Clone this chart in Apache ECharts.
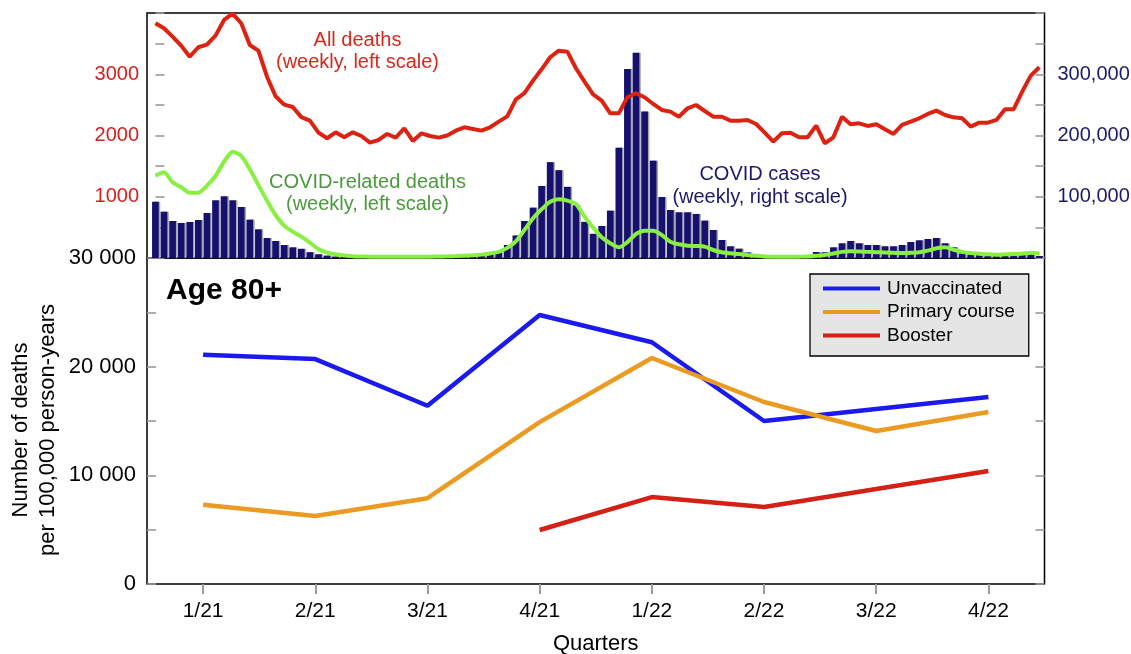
<!DOCTYPE html>
<html>
<head>
<meta charset="utf-8">
<script src="https://cdn.jsdelivr.net/npm/echarts@6/dist/echarts.min.js"></script>
<style>html,body{margin:0;padding:0;background:#fff}#c{width:1131px;height:654px}</style>
</head>
<body>
<div id="c"></div>
<script>
// ---- Top panel: weekly data (week 0 = first week of 2021) ----
const weeklyCases = [91900,75600,60400,57200,58800,62000,73500,94200,100700,94200,
83300,62600,46800,32700,27800,21200,17400,15000,9500,6100,
3900,2400,1800,1500,1300,1200,1100,1100,1000,1000,
1100,1200,1300,1400,1600,1900,2500,3800,4900,7100,
9800,21200,36800,60400,82200,117600,156500,143400,116200,86000,
59000,39500,52300,77300,180100,308600,335300,239000,158900,99600,
78400,74600,74600,71900,61000,45700,29400,19100,15200,9000,
5000,3000,2000,1500,1500,2000,3500,9800,9300,17400,
24000,27800,24000,21200,21200,19100,19100,21200,26100,28900,
31000,32700,24000,17400,7600,6000,5500,4900,3800,3800,
3800,4900,6000,3300];
const weeklyAllDeaths = [3833,3751,3614,3467,3287,3441,3483,3630,3887,3990,
3833,3478,3385,2960,2640,2505,2466,2300,2242,2046,
1955,2052,1971,2052,1992,1883,1927,2025,1965,2118,
1911,2036,1992,1965,2000,2079,2134,2107,2079,2134,
2226,2313,2590,2690,2896,3081,3277,3385,3369,3098,
2879,2672,2569,2363,2363,2624,2690,2624,2515,2417,
2390,2307,2444,2498,2400,2307,2307,2242,2242,2254,
2188,2046,1899,2036,2046,1971,1971,2161,1873,1971,
2307,2183,2199,2156,2183,2102,2025,2172,2226,2281,
2352,2406,2335,2297,2281,2145,2210,2210,2254,2428,
2428,2716,2977,3114];
const weeklyCovidDeaths = [1344,1399,1236,1154,1067,1067,1181,1339,1573,1736,
1666,1448,1192,936,702,528,430,348,250,142,
87,60,40,30,25,22,20,20,20,20,
20,20,22,25,28,32,38,45,55,75,
100,165,272,457,648,795,919,959,936,882,
675,500,338,240,174,260,392,446,446,376,
266,224,201,196,185,131,93,77,65,50,
35,25,20,20,20,22,25,35,50,75,
100,110,108,100,95,90,85,80,85,95,
120,160,175,135,100,80,70,60,55,60,
65,70,85,70];

// ---- Bottom panel: quarterly death rates ----
const quarters = ['1/21','2/21','3/21','4/21','1/22','2/22','3/22','4/22'];
const unvaccinated = [21100,20700,16400,24750,22250,15000,16100,17200];
const primaryCourse = [7300,6250,7900,14900,20800,16750,14080,15830];
const booster = [null,null,null,4970,8000,7090,8740,10400];

const leftTicksTop = [1000,2000,3000];
const rightTicksTop = [100000,200000,300000];

const FONT = '"Liberation Sans", Arial, sans-serif';
const toPairs = arr => arr.map((v,i)=>[i,v]);

const chart = echarts.init(document.getElementById('c'), null, {renderer:'canvas'});
const tickStyle = {show:true, inside:true, length:9, lineStyle:{color:'#999', width:1.6}};

chart.setOption({
  animation:false,
  backgroundColor:'#fff',
  textStyle:{fontFamily:FONT},
  grid:[
    {left:147, right:86.5, top:13, height:245, show:true, borderColor:'#000', borderWidth:1.5, backgroundColor:'transparent', containLabel:false, outerBoundsMode:'none'},
    {left:147, right:86.5, top:258, height:326, show:true, borderColor:'#000', borderWidth:1.5, backgroundColor:'transparent', containLabel:false, outerBoundsMode:'none'}
  ],
  xAxis:[
    {gridIndex:0, type:'value', min:-0.98, max:103.6, show:false},
    {gridIndex:1, type:'category', data:quarters, position:'bottom', boundaryGap:true,
     axisLine:{show:false},
     axisTick:{show:true, alignWithLabel:true, inside:false, length:10, lineStyle:{color:'#999', width:1.6}},
     axisLabel:{show:true, margin:17, fontSize:21, color:'#000', fontFamily:FONT},
     splitLine:{show:false},
     name:'Quarters', nameLocation:'middle', nameGap:49, nameMoveOverlap:false,
     nameTextStyle:{fontSize:22, color:'#000', fontFamily:FONT}},
    {gridIndex:1, type:'category', data:quarters, position:'top', boundaryGap:true,
     axisLine:{show:false},
     axisTick:{show:true, alignWithLabel:true, inside:true, length:10, lineStyle:{color:'#999', width:1.6}},
     axisLabel:{show:false}, splitLine:{show:false}}
  ],
  yAxis:[
    {gridIndex:0, type:'value', position:'left', min:0, max:4000, interval:500,
     axisLine:{show:false}, axisTick:tickStyle, splitLine:{show:false},
     axisLabel:{margin:8, fontSize:20, color:'#d42020', fontFamily:FONT,
       formatter:v=>leftTicksTop.includes(v)?String(v):''}},
    {gridIndex:0, type:'value', position:'right', min:0, max:400000, interval:50000,
     axisLine:{show:false}, axisTick:tickStyle, splitLine:{show:false},
     axisLabel:{margin:13, fontSize:20, color:'#1c1a6a', fontFamily:FONT,
       formatter:v=>rightTicksTop.includes(v)?v.toLocaleString('en-US'):''}},
    {gridIndex:1, type:'value', position:'left', min:0, max:30000, interval:5000,
     axisLine:{show:false}, axisTick:tickStyle, splitLine:{show:false},
     axisLabel:{margin:11, fontSize:22, color:'#000', fontFamily:FONT,
       formatter:v=>v%10000===0?(v===0?'0':(v/1000)+' 000'):''},
     name:'Number of deaths\nper 100,000 person-years', nameLocation:'middle', nameGap:86, nameMoveOverlap:false,
     nameTextStyle:{fontSize:22, lineHeight:27, color:'#000', fontFamily:FONT, padding:[0,18,0,0]}},
    {gridIndex:1, type:'value', position:'right', min:0, max:30000, interval:5000,
     axisLine:{show:false}, axisTick:tickStyle, splitLine:{show:false}, axisLabel:{show:false}}
  ],
  legend:{
    show:true, orient:'vertical', left:810, top:274,
    data:['Unvaccinated','Primary course','Booster'],
    backgroundColor:'#e5e5e5', borderColor:'#000', borderWidth:1.3,
    padding:[5,14,11,13], itemGap:4.5, itemWidth:57, itemHeight:4,
    icon:'rect',
    textStyle:{fontSize:19, lineHeight:19, color:'#000', fontFamily:FONT, padding:[0,0,0,2]}
  },
  graphic:[
    {type:'text', x:357.5, y:51, style:{text:'All deaths\n(weekly, left scale)', fill:'#d42a1e', font:'20px '+FONT, align:'center', verticalAlign:'middle', lineHeight:22}},
    {type:'text', x:367.5, y:193, style:{text:'COVID-related deaths\n(weekly, left scale)', fill:'#4c9a3e', font:'20px '+FONT, align:'center', verticalAlign:'middle', lineHeight:22}},
    {type:'text', x:760, y:185.5, style:{text:'COVID cases\n(weekly, right scale)', fill:'#1c1a6a', font:'20px '+FONT, align:'center', verticalAlign:'middle', lineHeight:23}},
    {type:'text', x:166, y:291, style:{text:'Age 80+', fill:'#000', font:'bold 30px '+FONT, align:'left', verticalAlign:'middle'}}
  ],
  series:[
    {name:'COVID cases', type:'bar', xAxisIndex:0, yAxisIndex:1, data:toPairs(weeklyCases),
     barWidth:6.7, z:1,
     itemStyle:{color:'#16106f', shadowColor:'#aaaaaa', shadowOffsetX:1.5, shadowOffsetY:0, shadowBlur:0}},
    {name:'All deaths', type:'line', xAxisIndex:0, yAxisIndex:0, data:toPairs(weeklyAllDeaths),
     symbol:'none', z:3, lineStyle:{color:'#dd2211', width:4}},
    {name:'COVID-related deaths', type:'line', xAxisIndex:0, yAxisIndex:0, data:toPairs(weeklyCovidDeaths),
     symbol:'none', smooth:0.25, z:4, lineStyle:{color:'#88f040', width:4}},
    {name:'Unvaccinated', type:'line', xAxisIndex:1, yAxisIndex:2, data:unvaccinated,
     symbol:'none', z:5, color:'#1a1aee', lineStyle:{color:'#1a1aee', width:4.5}},
    {name:'Primary course', type:'line', xAxisIndex:1, yAxisIndex:2, data:primaryCourse,
     symbol:'none', z:5, color:'#eb9a22', lineStyle:{color:'#eb9a22', width:4.5}},
    {name:'Booster', type:'line', xAxisIndex:1, yAxisIndex:2, data:booster,
     symbol:'none', z:5, color:'#d42015', lineStyle:{color:'#d42015', width:4.5}}
  ]
});
</script>
</body>
</html>
